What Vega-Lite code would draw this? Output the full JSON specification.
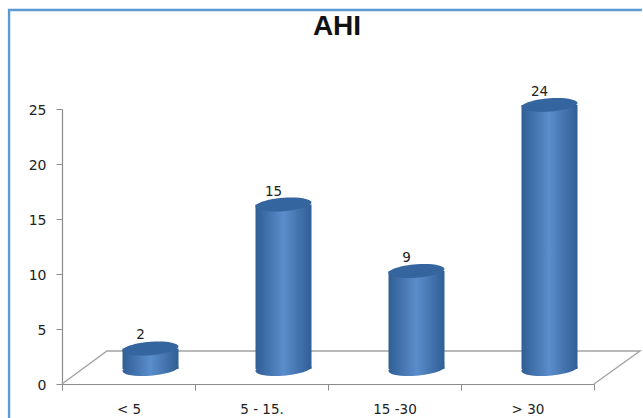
{
  "$schema": "https://vega.github.io/schema/vega-lite/v6.json",
  "width": 578,
  "height": 275,
  "autosize": "none",
  "padding": {"left": 62, "top": 109, "right": 3, "bottom": 34},
  "background": "white",
  "title": {
    "text": "AHI",
    "fontSize": 28,
    "font": "Liberation Sans",
    "fontWeight": "bold",
    "color": "#111111",
    "anchor": "middle",
    "dx": -14,
    "baseline": "alphabetic",
    "offset": -58
  },
  "datasets": {
    "ahi": [
      {"AHI": "< 5", "patients": 2},
      {"AHI": "5 - 15.", "patients": 15},
      {"AHI": "15 -30", "patients": 9},
      {"AHI": "> 30", "patients": 24}
    ],
    "scene": [
      {"part": "frame", "step": 1, "px": -0.398, "py": -4},
      {"part": "frame", "step": 2, "px": -0.398, "py": 34},
      {"part": "frame", "step": 3, "px": 4.36, "py": 34},
      {"part": "floor", "step": 1, "px": 0, "py": 0},
      {"part": "floor", "step": 2, "px": 0.338, "py": 3},
      {"part": "floor", "step": 3, "px": 4.346, "py": 3},
      {"part": "floor", "step": 4, "px": 4, "py": 0}
    ]
  },
  "layer": [
    {
      "data": {"name": "scene"},
      "mark": {"type": "line", "clip": false, "interpolate": "linear"},
      "encoding": {
        "x": {"field": "px", "type": "quantitative", "axis": null, "scale": {"domain": [0, 4.346], "nice": false, "zero": false}},
        "y": {
          "field": "py",
          "type": "quantitative",
          "title": null,
          "scale": {"domain": [0, 25], "nice": false},
          "axis": {"values": [0, 5, 10, 15, 20, 25], "grid": false, "tickSize": 6, "tickColor": "#8c8c8c", "domainColor": "#8c8c8c", "domainWidth": 1.2, "labelFont": "DejaVu Sans", "labelFontSize": 14, "labelColor": "#222222", "labelPadding": 10, "labelOffset": 1}
        },
        "detail": {"field": "part"},
        "order": {"field": "step"},
        "color": {"field": "part", "type": "nominal", "legend": null, "scale": {"domain": ["frame", "floor"], "range": ["#5b9bd5", "#a3a3a3"]}},
        "strokeWidth": {"field": "part", "type": "nominal", "legend": null, "scale": {"domain": ["frame", "floor"], "range": [2.4, 1.4]}}
      }
    },
    {
      "data": {"name": "ahi"},
      "encoding": {
        "x": {
          "field": "AHI",
          "type": "nominal",
          "sort": null,
          "title": null,
          "scale": {"domain": ["< 5", "5 - 15.", "15 -30", "> 30"], "range": [0, 532], "padding": 0},
          "axis": {"labelAngle": 0, "tickBand": "extent", "tickSize": 6, "tickColor": "#8c8c8c", "domainColor": "#8c8c8c", "domainWidth": 1.2, "labelFont": "DejaVu Sans", "labelFontSize": 13.5, "labelColor": "#222222", "labelPadding": 12}
        }
      },
      "layer": [
        {
          "mark": {
            "type": "point",
            "filled": true,
            "opacity": 1,
            "xOffset": 22,
            "shape": "M -1 0.07 C -1 -0.05 -0.55 -0.2 0 -0.24 C 0.55 -0.28 1 -0.2 1 -0.07 C 1 0.05 0.55 0.2 0 0.24 C -0.55 0.28 -1 0.2 -1 0.07 Z",
            "size": 3136,
            "fill": {"gradient": "linear", "x1": 0, "x2": 1, "y1": 0, "y2": 0, "stops": [{"offset": 0, "color": "#305e95"}, {"offset": 0.5, "color": "#5a8dcc"}, {"offset": 1, "color": "#305e95"}]}
          },
          "encoding": {"y": {"datum": 0.15, "type": "quantitative", "axis": null, "scale": {"domain": [-1.21, 23.63], "nice": false, "zero": false}}}
        },
        {
          "mark": {
            "type": "bar",
            "width": 56,
            "xOffset": 22,
            "fill": {"gradient": "linear", "x1": 0, "x2": 1, "y1": 0, "y2": 0, "stops": [{"offset": 0, "color": "#305e95"}, {"offset": 0.5, "color": "#5a8dcc"}, {"offset": 1, "color": "#305e95"}]}
          },
          "encoding": {
            "y": {"field": "patients", "type": "quantitative", "axis": null, "title": null},
            "y2": {"datum": 0.15}
          }
        },
        {
          "mark": {
            "type": "point",
            "filled": true,
            "opacity": 1,
            "xOffset": 22,
            "shape": "M -1 0.07 C -1 -0.05 -0.55 -0.2 0 -0.24 C 0.55 -0.28 1 -0.2 1 -0.07 C 1 0.05 0.55 0.2 0 0.24 C -0.55 0.28 -1 0.2 -1 0.07 Z",
            "size": 3136,
            "fill": "#35659e"
          },
          "encoding": {"y": {"field": "patients", "type": "quantitative", "axis": null}}
        },
        {
          "mark": {"type": "text", "xOffset": 12, "yOffset": -13, "font": "DejaVu Sans", "fontSize": 13.5, "color": "#222222", "baseline": "middle", "clip": false},
          "encoding": {
            "y": {"field": "patients", "type": "quantitative", "axis": null},
            "text": {"field": "patients", "type": "quantitative"}
          }
        }
      ]
    }
  ],
  "resolve": {"scale": {"x": "independent", "y": "independent", "color": "independent", "strokeWidth": "independent"}, "axis": {"x": "independent", "y": "independent"}},
  "config": {"view": {"stroke": null}}
}
